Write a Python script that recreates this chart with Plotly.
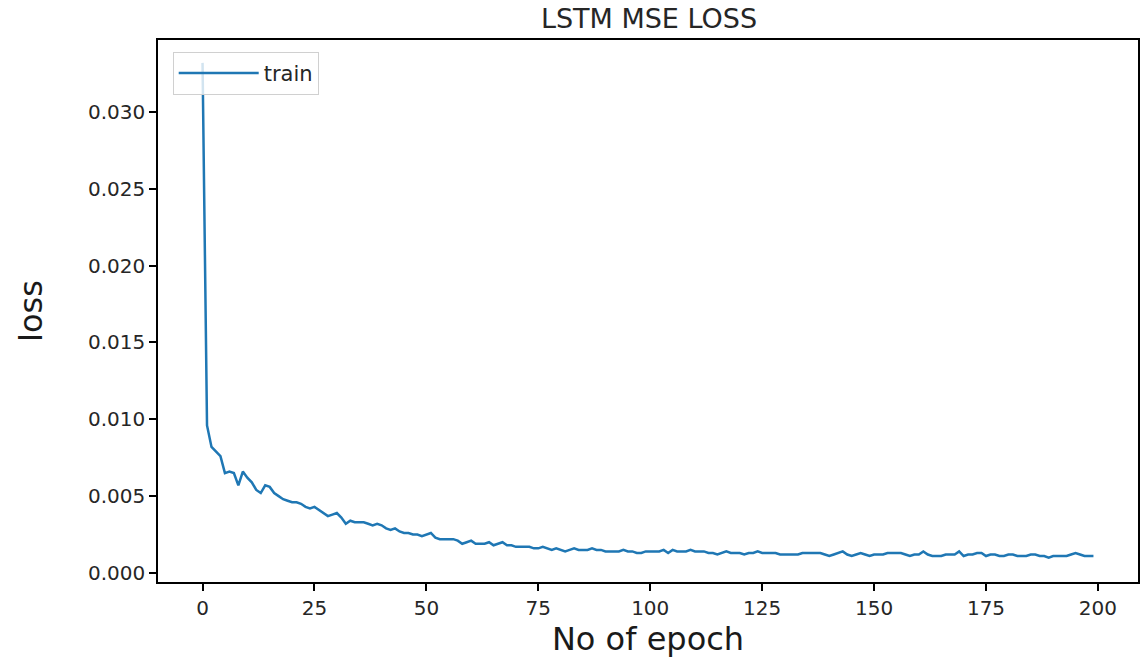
import plotly.graph_objects as go

epochs = list(range(200))
train_loss = [
    0.0332, 0.0096, 0.0082, 0.0079, 0.0076, 0.0065, 0.0066, 0.0065, 0.0057, 0.0066,
    0.0062, 0.0059, 0.0054, 0.0052, 0.0057, 0.0056, 0.0052, 0.0050, 0.0048, 0.0047,
    0.0046, 0.0046, 0.0045, 0.0043, 0.0042, 0.0043, 0.0041, 0.0039, 0.0037, 0.0038,
    0.0039, 0.0036, 0.0032, 0.0034, 0.0033, 0.0033, 0.0033, 0.0032, 0.0031, 0.0032,
    0.0031, 0.0029, 0.0028, 0.0029, 0.0027, 0.0026, 0.0026, 0.0025, 0.0025, 0.0024,
    0.0025, 0.0026, 0.0023, 0.0022, 0.0022, 0.0022, 0.0022, 0.0021, 0.0019, 0.0020,
    0.0021, 0.0019, 0.0019, 0.0019, 0.0020, 0.0018, 0.0019, 0.0020, 0.0018, 0.0018,
    0.0017, 0.0017, 0.0017, 0.0017, 0.0016, 0.0016, 0.0017, 0.0016, 0.0015, 0.0016,
    0.0015, 0.0014, 0.0015, 0.0016, 0.0015, 0.0015, 0.0015, 0.0016, 0.0015, 0.0015,
    0.0014, 0.0014, 0.0014, 0.0014, 0.0015, 0.0014, 0.0014, 0.0013, 0.0013, 0.0014,
    0.0014, 0.0014, 0.0014, 0.0015, 0.0013, 0.0015, 0.0014, 0.0014, 0.0014, 0.0015,
    0.0014, 0.0014, 0.0014, 0.0013, 0.0013, 0.0012, 0.0013, 0.0014, 0.0013, 0.0013,
    0.0013, 0.0012, 0.0013, 0.0013, 0.0014, 0.0013, 0.0013, 0.0013, 0.0013, 0.0012,
    0.0012, 0.0012, 0.0012, 0.0012, 0.0013, 0.0013, 0.0013, 0.0013, 0.0013, 0.0012,
    0.0011, 0.0012, 0.0013, 0.0014, 0.0012, 0.0011, 0.0012, 0.0013, 0.0012, 0.0011,
    0.0012, 0.0012, 0.0012, 0.0013, 0.0013, 0.0013, 0.0013, 0.0012, 0.0011, 0.0012,
    0.0012, 0.0014, 0.0012, 0.0011, 0.0011, 0.0011, 0.0012, 0.0012, 0.0012, 0.0014,
    0.0011, 0.0012, 0.0012, 0.0013, 0.0013, 0.0011, 0.0012, 0.0012, 0.0011, 0.0011,
    0.0012, 0.0012, 0.0011, 0.0011, 0.0011, 0.0012, 0.0012, 0.0011, 0.0011, 0.0010,
    0.0011, 0.0011, 0.0011, 0.0011, 0.0012, 0.0013, 0.0012, 0.0011, 0.0011, 0.0011,
]
x_ticks = [0, 25, 50, 75, 100, 125, 150, 175, 200]
y_ticks = [0.000, 0.005, 0.010, 0.015, 0.020, 0.025, 0.030]

fig = go.Figure()
fig.add_trace(go.Scatter(
    x=epochs, y=train_loss, mode="lines", name="train",
    line=dict(color="#1f77b4", width=2.5),
))

font = "DejaVu Sans, sans-serif"
fig.update_layout(
    width=1142, height=660,
    margin=dict(l=158, r=2, t=40, b=78),
    paper_bgcolor="white", plot_bgcolor="white",
    font=dict(family=font, color="#262626"),
    title=dict(text="LSTM MSE LOSS", x=(158 + 1140) / 2 / 1142, xanchor="center",
               y=1 - 19 / 660, yanchor="middle",
               font=dict(size=27, family=font, color="#262626")),
    showlegend=True,
    legend=dict(x=0.015, y=0.978, xanchor="left", yanchor="top",
                bgcolor="rgba(255,255,255,0.8)", bordercolor="#d0d0d0", borderwidth=1,
                itemwidth=80,
                font=dict(size=21, family=font, color="#262626")),
)
fig.update_xaxes(
    range=[-9.95, 208.95], tickvals=x_ticks, ticktext=[str(v) for v in x_ticks],
    ticks="outside", ticklen=7, tickwidth=1.5, tickcolor="black",
    showline=True, linecolor="black", linewidth=1.5, mirror=True,
    showgrid=False, zeroline=False,
    tickfont=dict(size=20, family=font, color="#262626"),
    title=dict(text="No of epoch", font=dict(size=32, family=font, color="#1a1a1a"), standoff=2),
)
fig.update_yaxes(
    range=[-0.00059, 0.03469], tickvals=y_ticks, ticktext=["%.3f" % v for v in y_ticks],
    ticks="outside", ticklen=7, tickwidth=1.5, tickcolor="black",
    showline=True, linecolor="black", linewidth=1.5, mirror=True,
    showgrid=False, zeroline=False,
    tickfont=dict(size=20, family=font, color="#262626"),
    title=dict(text="loss", font=dict(size=32, family=font, color="#1a1a1a"), standoff=36),
)

fig.write_html("out.html")
